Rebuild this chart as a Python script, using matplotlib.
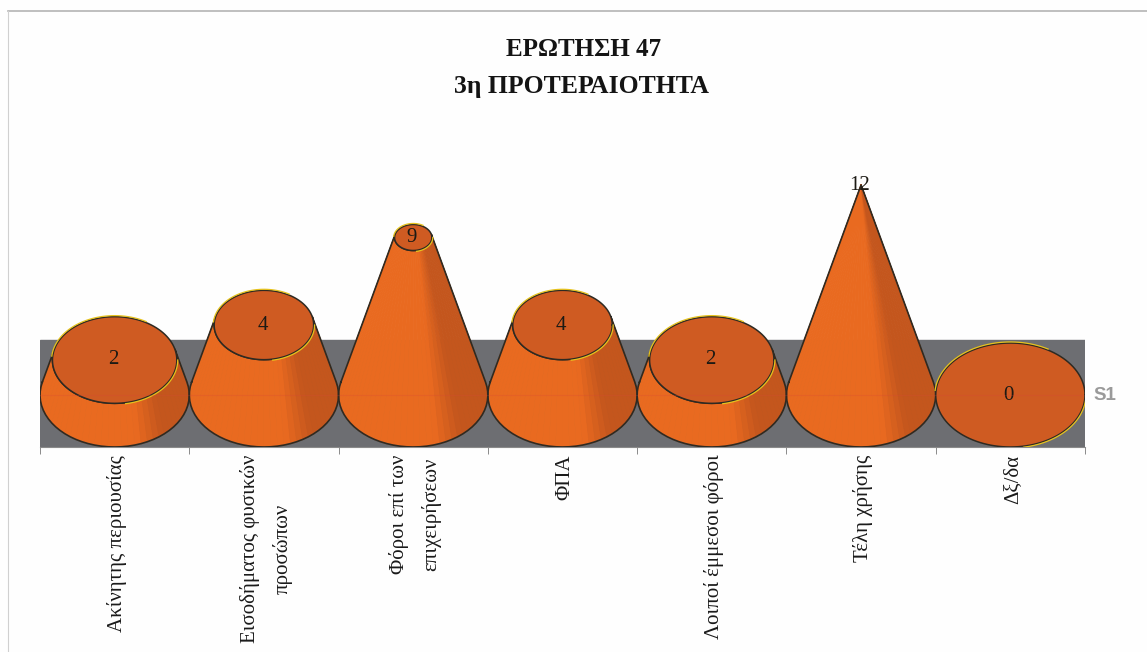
import numpy as np
import matplotlib
matplotlib.use('Agg')
import matplotlib.pyplot as plt
from matplotlib.collections import PolyCollection
from matplotlib.colors import to_rgb
from matplotlib.transforms import ScaledTranslation

plt.rcParams['font.family'] = ['Liberation Serif', 'DejaVu Serif']

# chart data
categories = ['Ακίνητης περιουσίας', 'Εισοδήματος φυσικών\nπροσώπων', 'Φόροι επί των\nεπιχειρήσεων',
              'ΦΠΑ', 'Λοιποί έμμεσοι φόροι', 'Τέλη χρήσης', 'Δξ/δα']
values = [2, 4, 9, 4, 2, 12, 0]
series_name = 'S1'
title_lines = ['ΕΡΩΤΗΣΗ 47', '3η ΠΡΟΤΕΡΑΙΟΤΗΤΑ']

W, H = 1147, 652
PX_PER_UNIT = 17.5
BASE_Y = 395
WALL_BOTTOM = 447
WALL_TOP = 340
AX_TOP = 170
LIGHT = np.array(to_rgb('#e96a20'))
DARK = np.array(to_rgb('#c4561d'))
TOP_COLOR = '#cf5b22'
EDGE = '#2e2a22'
YELLOW = '#e6c21e'

fig = plt.figure(figsize=(W / 100, H / 100), dpi=100, facecolor='#fefefe')
ax = fig.add_axes([40 / W, (H - WALL_BOTTOM) / H, 1045 / W, (WALL_BOTTOM - AX_TOP) / H])
ymin = (BASE_Y - WALL_BOTTOM) / PX_PER_UNIT
ax.set_xlim(0, len(values))
ax.set_ylim(ymin, (BASE_Y - AX_TOP) / PX_PER_UNIT)
ax.patch.set_alpha(0)
ax.axhspan(ymin, (BASE_Y - WALL_TOP) / PX_PER_UNIT, color='#6d6e72', zorder=1)

ymax_value = max(values)
rx = 0.5
ry = -ymin
t0 = np.arcsin(ry / ymax_value)
angles = np.linspace(np.pi - t0, 2 * np.pi + t0, 41)
circle = np.linspace(0, 2 * np.pi, 121)
arc_upper = np.radians(np.linspace(60, 175, 40))
arc_lower = np.radians(np.linspace(280, 360, 30))

for i, v in enumerate(values):
    cx = i + 0.5
    k = 1 - v / ymax_value
    if v > 0:
        # side of the cone as narrow facets, darker towards the right
        facets = []
        colors = []
        for a, b in zip(angles[:-1], angles[1:]):
            facets.append([(cx + rx * np.cos(a), ry * np.sin(a)),
                           (cx + rx * np.cos(b), ry * np.sin(b)),
                           (cx + k * rx * np.cos(b), v + k * ry * np.sin(b)),
                           (cx + k * rx * np.cos(a), v + k * ry * np.sin(a))])
            m = (a + b) / 2
            mix = np.clip((np.cos(m) - 0.3) / 0.35, 0, 1)
            colors.append(LIGHT * (1 - mix) + DARK * mix)
        ax.add_collection(PolyCollection(facets, facecolors=colors, edgecolors=colors, linewidths=0.6, zorder=3))
        # outline
        sx = np.r_[cx + rx * np.cos(angles), cx + k * rx * np.cos(angles[::-1])]
        sy = np.r_[ry * np.sin(angles), v + k * ry * np.sin(angles[::-1])]
        ax.plot(np.r_[sx, sx[0]], np.r_[sy, sy[0]], color=EDGE, lw=1.2, zorder=4)
    # top face
    ex = cx + k * rx * np.cos(circle)
    ey = v + k * ry * np.sin(circle)
    if k > 0:
        ax.fill(ex, ey, color=TOP_COLOR, lw=0, zorder=5)
        ax.plot(ex, ey, color=EDGE, lw=1.1, zorder=6)
        # thin yellow rim just outside the dark line
        for arc in (arc_upper, arc_lower):
            ax.plot(cx + (k * rx + 0.006) * np.cos(arc), v + (k * ry + 0.06) * np.sin(arc),
                    color=YELLOW, lw=0.9, zorder=7)
    ax.text(cx - 0.01, v, str(v), ha='center', va='center', fontsize=15, color='#1c1a14', zorder=8, clip_on=False)

ax.axhline(0, color='#d9443a', lw=0.8, alpha=0.22, zorder=9)

ax.set_xticks(np.arange(len(values) + 1))
ax.set_xticklabels([])
ax.set_xticks(np.arange(len(values)) + 0.5, minor=True)
ax.set_xticklabels(categories, minor=True, rotation=90, fontsize=15, color='#1a1a1a',
                   linespacing=1.85, multialignment='center')
ax.tick_params(axis='x', which='major', length=5, width=0.7, color='#8a8a8a')
ax.tick_params(axis='x', which='minor', length=0, pad=5.5)
shift = ScaledTranslation(2 / 100, 0, fig.dpi_scale_trans)
for lab in ax.get_xticklabels(minor=True):
    lab.set_transform(lab.get_transform() + shift)
ax.set_yticks([])
for s in ['top', 'left', 'right']:
    ax.spines[s].set_visible(False)
ax.spines['bottom'].set_color('#8a8a8a')

ax.text(1.008, 0, series_name, transform=ax.get_yaxis_transform(), ha='left', va='center',
        fontsize=13.5, fontweight='bold', color='#9a9a9a', family='Liberation Sans')

fig.text(584 / W, 1 - 50 / H, title_lines[0], ha='center', va='center', fontsize=18, fontweight='bold', color='#141414')
fig.text(582 / W, 1 - 86 / H, title_lines[1], ha='center', va='center', fontsize=18.5, fontweight='bold', color='#141414')

# scanned page frame
fig.add_artist(plt.Line2D([8 / W, 1], [1 - 11 / H, 1 - 11 / H], color='#b4b4b4', lw=1.2))
fig.add_artist(plt.Line2D([8 / W, 8 / W], [0, 1 - 11 / H], color='#d0d0d0', lw=0.8))

fig.savefig('out.png', dpi=100, facecolor=fig.get_facecolor())
